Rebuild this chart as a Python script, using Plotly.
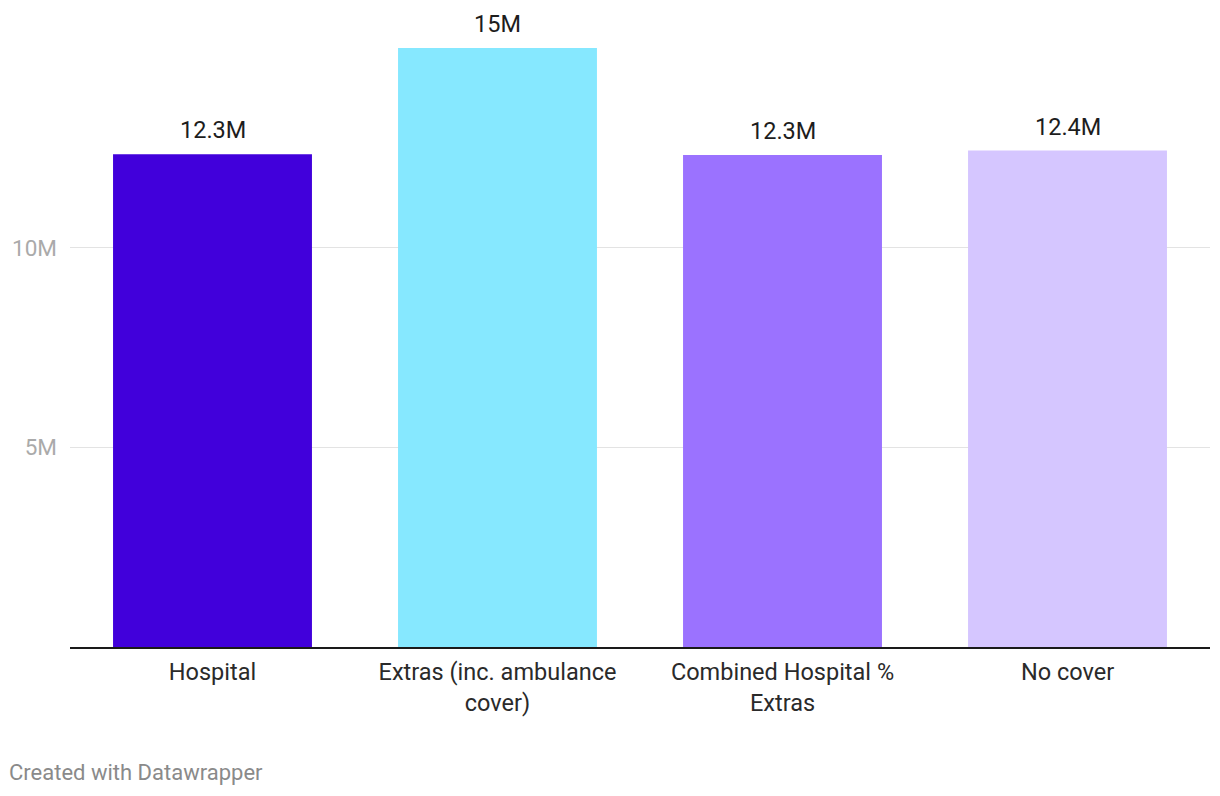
import plotly.graph_objects as go

categories = ["Hospital", "Extras (inc. ambulance<br>cover)", "Combined Hospital %<br>Extras", "No cover"]
values_m = [12.34, 15.0, 12.32, 12.43]
colors = ["#4100DB", "#86E8FF", "#9B72FF", "#D5C6FF"]
y_tickvals = [5, 10]
y_ticktext = ["5M", "10M"]


def fmt(v):
    s = f"{v:.1f}"
    if s.endswith(".0"):
        s = s[:-2]
    return s + "M"


labels = [fmt(v) for v in values_m]

fig = go.Figure(
    go.Bar(
        x=categories,
        y=values_m,
        marker=dict(color=colors, line=dict(width=0)),
        hoverinfo="skip",
    )
)

annotations = [
    dict(
        x=c, y=v, text=t, xref="x", yref="y",
        showarrow=False, yanchor="bottom", yshift=8,
        font=dict(family="Roboto", size=23.5, color="#1d1d1d"),
    )
    for c, v, t in zip(categories, values_m, labels)
]
annotations.append(
    dict(
        text="Created with Datawrapper",
        xref="paper", yref="paper",
        x=-70 / 1140, y=0,
        yshift=-125, xshift=7,
        xanchor="left", yanchor="middle",
        showarrow=False,
        font=dict(family="Roboto", size=22, color="#8a8a8a"),
    )
)

fig.update_layout(
    width=1220,
    height=796,
    margin=dict(l=70, r=10, t=8, b=149),
    plot_bgcolor="white",
    paper_bgcolor="white",
    bargap=0.302,
    showlegend=False,
    font=dict(family="Roboto", size=23.5, color="#333333"),
    xaxis=dict(
        showline=True,
        linecolor="#1a1a1a",
        linewidth=2,
        showgrid=False,
        ticks="",
        tickfont=dict(family="Roboto", size=23.5, color="#2a2a2a"),
        ticklabelstandoff=3,
    ),
    yaxis=dict(
        range=[0, 16],
        tickvals=y_tickvals,
        ticktext=y_ticktext,
        showgrid=True,
        gridcolor="#e3e3e3",
        gridwidth=1,
        zeroline=False,
        showline=False,
        ticks="",
        tickfont=dict(family="Roboto", size=22.5, color="#aaaaaa"),
        ticklabelstandoff=12,
    ),
    annotations=annotations,
)

fig.write_html("out.html")
